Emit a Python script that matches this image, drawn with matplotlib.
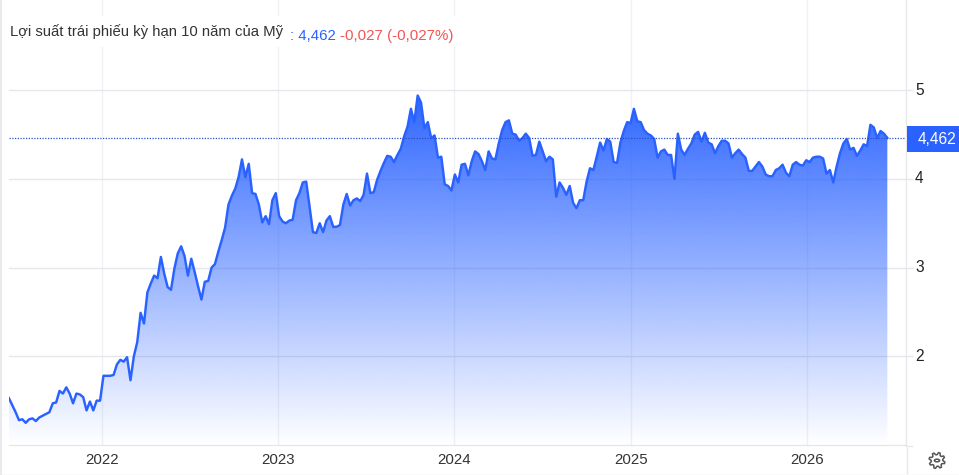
import numpy as np
import pandas as pd
import matplotlib
matplotlib.use("Agg")
import matplotlib.pyplot as plt
import matplotlib.dates as mdates
from matplotlib.lines import Line2D
from matplotlib.patches import Rectangle, Polygon, Circle
from matplotlib.transforms import ScaledTranslation

# weekly 10y yield
values_2021_22 = [
    1.53, 1.45, 1.37, 1.28, 1.29, 1.25, 1.29, 1.30, 1.27, 1.31, 1.33, 1.35, 1.37, 1.47, 1.48, 1.61,
    1.58, 1.65, 1.58, 1.47, 1.58, 1.57, 1.54, 1.39, 1.49, 1.39, 1.50, 1.50, 1.78, 1.78, 1.78, 1.79,
    1.91, 1.96, 1.94, 1.99, 1.73, 2.00, 2.16, 2.49, 2.37, 2.72, 2.82, 2.91, 2.88, 3.12, 2.93, 2.78,
    2.75, 2.99, 3.16, 3.24, 3.13, 2.91, 3.10, 2.95, 2.79, 2.64, 2.84, 2.85, 3.00, 3.04, 3.18, 3.31,
]
values_2022_23 = [
    3.45, 3.71, 3.81, 3.89, 4.02, 4.22, 4.02, 4.17, 3.84, 3.83, 3.71, 3.51, 3.58, 3.49, 3.76, 3.84,
    3.58, 3.52, 3.50, 3.53, 3.54, 3.76, 3.84, 3.96, 3.97, 3.69, 3.40, 3.39, 3.50, 3.40, 3.53, 3.58,
    3.46, 3.46, 3.48, 3.71, 3.83, 3.70, 3.76, 3.78, 3.75, 3.82, 4.06, 3.84, 3.85, 3.99, 4.09, 4.18,
    4.26, 4.25, 4.19, 4.27, 4.34, 4.48, 4.59, 4.79, 4.64, 4.94, 4.86, 4.57, 4.64, 4.46, 4.49, 4.24,
    4.25, 3.94, 3.92,
]
values_2024 = [
    3.87, 4.05, 3.96, 4.16, 4.17, 4.04, 4.20, 4.31, 4.28, 4.20, 4.10, 4.31, 4.23, 4.22, 4.40, 4.55,
    4.64, 4.66, 4.51, 4.50, 4.43, 4.46, 4.51, 4.46, 4.26, 4.27, 4.42, 4.31, 4.20, 4.25, 4.22, 3.80,
    3.96, 3.90, 3.82, 3.92, 3.73, 3.67, 3.76, 3.76, 3.97, 4.12, 4.10, 4.25, 4.41, 4.32, 4.45, 4.42,
    4.19, 4.18, 4.41, 4.54, 4.64, 4.63, 4.79, 4.65, 4.64, 4.55, 4.51, 4.49, 4.45, 4.24, 4.31, 4.33,
    4.27,
]
values_2025_26 = [
    4.27, 4.00, 4.51, 4.33, 4.27, 4.34, 4.40, 4.50, 4.53, 4.42, 4.52, 4.41, 4.39, 4.29, 4.37, 4.43,
    4.43, 4.40, 4.24, 4.29, 4.33, 4.28, 4.24, 4.09, 4.09, 4.14, 4.19, 4.14, 4.05, 4.03, 4.03, 4.10,
    4.12, 4.16, 4.07, 4.03, 4.16, 4.19, 4.16, 4.15, 4.21, 4.19, 4.24, 4.25, 4.25, 4.23, 4.06, 4.10,
    3.96, 4.14, 4.29, 4.40, 4.45, 4.33, 4.35, 4.26, 4.32, 4.39, 4.37, 4.61, 4.58, 4.46, 4.54, 4.51,
    4.462,
]
yields = np.array(values_2021_22 + values_2022_23 + values_2024 + values_2025_26)
dates = pd.date_range("2021-06-22", periods=len(yields), freq="7D")
last_value = 4.462
y_ticks = [2, 3, 4, 5]

title_text = "Lợi suất trái phiếu kỳ hạn 10 năm của Mỹ"
value_text = ": 4,462"
change_text = "-0,027 (-0,027%)"
last_label = "4,462"

W, H = 959, 475
BLUE = "#2962ff"
GRID = "#e6e7ea"
VGRID = "#eef1f5"
FONT = "Liberation Sans"

plt.rcParams["font.family"] = FONT


def fx(px):
    return px / W


def fy(py):
    return 1 - py / H


fig = plt.figure(figsize=(W / 100, H / 100), dpi=100)
ax = fig.add_axes([fx(9), fy(445), (906 - 9) / W, 445 / H])

x = mdates.date2num(dates)
px_per_day = 176.3 / 365.25
x0 = mdates.date2num(pd.Timestamp("2022-01-01"))
xlim = (x0 - 93 / px_per_day, x0 + 804 / px_per_day)
ylim = (1, 1 + 445 / 88.7)

# gradient fill under the line
grad = np.zeros((256, 1, 4))
grad[..., :3] = matplotlib.colors.to_rgb(BLUE)
grad[:, 0, 3] = np.linspace(0.98, 0, 256)
im = ax.imshow(grad, extent=(x[0], x[-1], 1, yields.max()), aspect="auto", zorder=2,
               interpolation="bilinear")
poly = ax.fill_between(x, yields, 1, facecolor="none", edgecolor="none", zorder=2)
im.set_clip_path(poly.get_paths()[0], transform=ax.transData)

ax.plot(x, yields, color=BLUE, lw=1.75, solid_joinstyle="round", zorder=4)
ax.axhline(last_value, color="#2a4fc4", lw=0.9, ls=(0, (1, 1.2)), zorder=5)

ax.set_xlim(xlim)
ax.set_ylim(ylim)
ax.xaxis.set_major_locator(mdates.YearLocator())
ax.xaxis.set_major_formatter(mdates.DateFormatter("%Y"))
ax.set_yticks(y_ticks)
ax.yaxis.tick_right()
ax.tick_params(axis="x", length=0, pad=6, labelsize=10.8, labelcolor="#333333")
ax.tick_params(axis="y", length=5, width=1, color=GRID, pad=1.5, labelsize=11.2, labelcolor="#222222")
ax.grid(axis="y", color=GRID, lw=1, zorder=1)
ax.grid(axis="x", color=VGRID, lw=1, zorder=1)
ax.set_axisbelow(True)
for side in ["top", "left"]:
    ax.spines[side].set_visible(False)
for side in ["right", "bottom"]:
    ax.spines[side].set_color(GRID)
    ax.spines[side].set_linewidth(1)
for label in ax.get_yticklabels():
    label.set_transform(label.get_transform() + ScaledTranslation(0, 1.5 / 100, fig.dpi_scale_trans))

# title strip hides the vertical grid behind it
fig.add_artist(Rectangle((fx(9), fy(47)), 451 / W, 31 / H, transform=fig.transFigure,
                         facecolor="white", edgecolor="none", zorder=6))
fig.text(fx(10), fy(32), title_text, fontsize=10.75, color="#333333", va="center", zorder=7)
fig.text(fx(290), fy(36), value_text, fontsize=10.8, color=BLUE, va="center", zorder=7)
fig.text(fx(340), fy(36), change_text, fontsize=10.9, color="#f25555", va="center", zorder=7)

# last value tag
fig.add_artist(Rectangle((fx(907), fy(152)), 52 / W, 26 / H, transform=fig.transFigure,
                         facecolor=BLUE, edgecolor="none", zorder=6))
fig.text(fx(956), fy(139.5), last_label, fontsize=11.2, color="white", va="center", ha="right", zorder=7)

# outer frame and the axis line below the chart
fig.add_artist(Line2D([fx(906.5), fx(906.5)], [fy(448), fy(473)], color=GRID, lw=1))
fig.add_artist(Line2D([fx(906), fx(912)], [fy(445.5), fy(445.5)], color=GRID, lw=1))
fig.add_artist(Line2D([fx(0.5), fx(0.5)], [0, 1], color="#e8eaee", lw=1.5))
fig.add_artist(Line2D([0, 1], [fy(474.5), fy(474.5)], color="#e8eaee", lw=1))

# settings gear
cx, cy, teeth = 937, 460.5, 8
angles = np.linspace(0, 2 * np.pi, teeth * 4, endpoint=False) + np.pi / teeth / 2
radii = np.tile([8, 8, 5.8, 5.8], teeth)
gear = [(fx(cx + r * np.cos(a)), fy(cy + r * np.sin(a))) for r, a in zip(radii, angles)]
fig.add_artist(Polygon(gear, closed=True, transform=fig.transFigure, facecolor="none",
                       edgecolor="#555555", lw=1.1))
fig.add_artist(Circle((fx(cx), fy(cy)), 2.6 / W, transform=fig.transFigure, facecolor="none",
                      edgecolor="#555555", lw=1.1))

fig.savefig("out.png", dpi=100)
